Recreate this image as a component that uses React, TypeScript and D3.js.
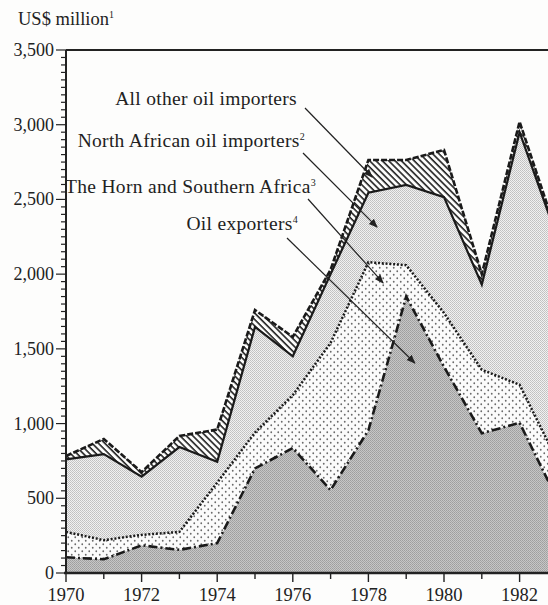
import React from "react";
import * as d3 from "d3";

// years on the x axis (1983 is cut off by the right edge, as in the print)
const years = [1970, 1971, 1972, 1973, 1974, 1975, 1976, 1977, 1978, 1979, 1980, 1981, 1982, 1983];

// US$ million, one value per year for each layer (stacked bottom to top)
const oilExporters = [105, 92, 185, 155, 200, 700, 836, 555, 955, 1850, 1380, 935, 1005, 490];
const hornSouthern = [170, 128, 70, 120, 405, 240, 354, 985, 1125, 210, 360, 425, 255, 260];
const northAfrican = [485, 576, 390, 568, 140, 707, 260, 460, 465, 537, 775, 570, 1690, 1490];
const allOther = [23, 101, 30, 74, 215, 113, 130, 30, 219, 167, 316, 70, 70, 20];

const keys = ["oil", "horn", "north", "other"];
const xTickYears = [1970, 1972, 1974, 1976, 1978, 1980, 1982];
const yTickValues = [0, 500, 1000, 1500, 2000, 2500, 3000, 3500];

// label text, superscript note, and where its arrow points (year, value)
const labels = [
  { text: "All other oil importers", sup: "", year: 1978.1, value: 2650 },
  { text: "North African oil importers", sup: "2", year: 1978.23, value: 2315 },
  { text: "The Horn and Southern Africa", sup: "3", year: 1978.39, value: 1941 },
  { text: "Oil exporters", sup: "4", year: 1979.23, value: 1405 },
];
const labelPos = [
  { x: 297, y: 105, ax: 305, ay: 108 },
  { x: 305, y: 147, ax: 303, ay: 153 },
  { x: 316, y: 193, ax: 308, ay: 199 },
  { x: 298, y: 230, ax: 287, ay: 238 },
];

const W = 548;
const H = 605;
const font = "'Liberation Serif', 'Times New Roman', serif";

export default function App() {
  const x = d3.scaleLinear().domain([1970, 1983]).range([66, 66 + 13 * 37.8]);
  const y = d3.scaleLinear().domain([0, 3500]).range([573, 50]);

  const table = years.map((yr, i) => ({
    year: yr,
    oil: oilExporters[i],
    horn: hornSouthern[i],
    north: northAfrican[i],
    other: allOther[i],
  }));
  const series = d3.stack<any>().keys(keys)(table);

  const area = d3
    .area<any>()
    .x((d) => x(d.data.year))
    .y0((d) => y(d[0]))
    .y1((d) => y(d[1]));
  const topLine = d3
    .line<any>()
    .x((d) => x(d.data.year))
    .y((d) => y(d[1]));

  const fills = ["url(#pOil)", "url(#pHorn)", "url(#pNorth)", "url(#pHatch)"];
  const strokes = [
    { w: 2.6, dash: "9 3 2 3" },
    { w: 2.5, dash: "2 1.8" },
    { w: 2.2, dash: "" },
    { w: 2.6, dash: "6 2" },
  ];

  const minorY = d3.range(0, 3501, 50);

  return (
    <svg
      width={W}
      height={H}
      style={{ position: "absolute", left: 0, top: 0, background: "#fdfdfc" }}
    >
      <defs>
        <pattern id="pOil" width="2" height="2" patternUnits="userSpaceOnUse">
          <rect width="2" height="2" fill="#c6c6c6" />
          <rect width="1" height="1" fill="#9e9e9e" />
          <rect x="1" y="1" width="1" height="1" fill="#a6a6a6" />
        </pattern>
        <pattern id="pNorth" width="2" height="2" patternUnits="userSpaceOnUse">
          <rect width="2" height="2" fill="#f1f1f1" />
          <rect width="1" height="1" fill="#c0c0c0" />
          <rect x="1" y="1" width="1" height="1" fill="#c8c8c8" />
        </pattern>
        <pattern id="pHorn" width="7" height="7" patternUnits="userSpaceOnUse">
          <rect width="7" height="7" fill="#fbfbfb" />
          <circle cx="1.75" cy="1.75" r="0.9" fill="#6a6a6a" />
          <circle cx="5.25" cy="5.25" r="0.9" fill="#6a6a6a" />
        </pattern>
        <pattern
          id="pHatch"
          width="4.5"
          height="4.5"
          patternUnits="userSpaceOnUse"
          patternTransform="rotate(45)"
        >
          <rect width="4.5" height="4.5" fill="#fdfdfc" />
          <rect width="4.5" height="1.6" fill="#222" />
        </pattern>
        <marker
          id="arrow"
          viewBox="0 0 10 10"
          refX="9"
          refY="5"
          markerWidth="9"
          markerHeight="9"
          markerUnits="userSpaceOnUse"
          orient="auto"
        >
          <path d="M0,1 L10,5 L0,9 Z" fill="#222" />
        </marker>
      </defs>

      <text x={18} y={25} fontFamily={font} fontSize={18.5} fill="#222">
        US$ million
        <tspan fontSize={10} dy={-7}>1</tspan>
      </text>

      {series.map((s, i) => (
        <path key={"a" + i} d={area(s) || ""} fill={fills[i]} />
      ))}
      {series.map((s, i) => (
        <path
          key={"l" + i}
          d={topLine(s) || ""}
          fill="none"
          stroke="#1a1a1a"
          strokeWidth={strokes[i].w}
          strokeDasharray={strokes[i].dash}
          strokeLinejoin="miter"
        />
      ))}

      {/* frame: top rule, y axis, x axis */}
      <line x1={66} x2={W} y1={y(3500)} y2={y(3500)} stroke="#222" strokeWidth={2} />
      <line x1={66} x2={66} y1={y(3500)} y2={y(0)} stroke="#222" strokeWidth={2} />
      <line x1={64} x2={W} y1={y(0)} y2={y(0)} stroke="#222" strokeWidth={2.5} />

      {minorY.map((v) => (
        <line
          key={"yt" + v}
          x1={v % 500 === 0 ? 56 : 61}
          x2={66}
          y1={y(v)}
          y2={y(v)}
          stroke="#222"
          strokeWidth={1.2}
        />
      ))}
      {yTickValues.map((v) => (
        <text
          key={"yl" + v}
          x={54}
          y={y(v) + 6}
          textAnchor="end"
          fontFamily={font}
          fontSize={18}
          fill="#222"
        >
          {d3.format(",")(v)}
        </text>
      ))}

      {years.map((yr) => (
        <line
          key={"xt" + yr}
          x1={x(yr)}
          x2={x(yr)}
          y1={y(0)}
          y2={y(0) + (yr % 2 === 0 ? 9 : 6)}
          stroke="#222"
          strokeWidth={1.4}
        />
      ))}
      {xTickYears.map((yr) => (
        <text
          key={"xl" + yr}
          x={x(yr)}
          y={601}
          textAnchor="middle"
          fontFamily={font}
          fontSize={18.5}
          fill="#222"
        >
          {yr}
        </text>
      ))}

      {labels.map((l, i) => (
        <g key={"lab" + i}>
          <text
            x={labelPos[i].x}
            y={labelPos[i].y}
            textAnchor="end"
            fontFamily={font}
            fontSize={19.5}
            letterSpacing={0.3}
            fill="#222"
          >
            {l.text}
            {l.sup && (
              <tspan fontSize={10} dy={-7}>
                {l.sup}
              </tspan>
            )}
          </text>
          <line
            x1={labelPos[i].ax}
            y1={labelPos[i].ay}
            x2={x(l.year)}
            y2={y(l.value)}
            stroke="#222"
            strokeWidth={1.2}
            markerEnd="url(#arrow)"
          />
        </g>
      ))}
    </svg>
  );
}
